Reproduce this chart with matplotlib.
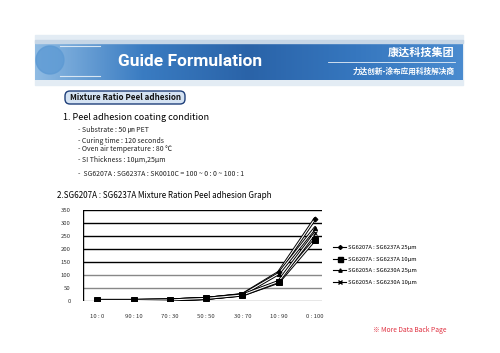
import numpy as np
import matplotlib
matplotlib.use("Agg")
import matplotlib.pyplot as plt
import matplotlib.patheffects as pe
from matplotlib.patches import Rectangle, FancyBboxPatch, Circle

plt.rcParams['font.family'] = ['Noto Sans CJK KR', 'DejaVu Sans']

# data
ratios = ["10 : 0", "90 : 10", "70 : 30", "50 : 50", "30 : 70", "10 : 90", "0 : 100"]
s1_label = "SG6207A : SG6237A 25μm"
s2_label = "SG6207A : SG6237A 10μm"
s3_label = "SG6205A : SG6230A 25μm"
s4_label = "SG6205A : SG6230A 10μm"
s1 = [2, 2, 4, 10, 25, 110, 315]
s2 = [2, 2, 4, 10, 23, 72, 235]
s3 = [2, 2, 4, 10, 24, 105, 280]
s4 = [2, 2, 4, 10, 23, 75, 260]
yticks = [0, 50, 100, 150, 200, 250, 300, 350]

W, H = 500, 353
fig = plt.figure(figsize=(5, 3.53), dpi=100)

def fx(x):
    return x / W

def fy(y):
    return 1 - y / H

# banner
bg = fig.add_axes([0, 0, 1, 1], zorder=0)
bg.axis('off')
bg.add_patch(Rectangle((35, 35), 428, 50, color='#e3ecf4'))
cm = matplotlib.colors.LinearSegmentedColormap.from_list('b', ['#8fbbe3', '#3a7cc2', '#2a63a8', '#3677bf', '#4a8bcf'])
grad = np.linspace(0, 1, 256).reshape(1, -1)
bg.imshow(grad, extent=(35, 463, 80, 42), cmap=cm, aspect='auto', zorder=1)
bg.add_patch(Circle((50, 60), 14, color='#5d9ad4', alpha=0.8, zorder=2))
bg.add_patch(Rectangle((35, 40), 428, 2.5, color='#c6d6e6', zorder=2))
bg.plot([60, 100], [46, 46], color='#d8e6f3', lw=0.8, zorder=3)
bg.plot([60, 100], [76, 76], color='#d8e6f3', lw=0.8, zorder=3)
bg.plot([328, 455], [62, 62], color='#e8f0f8', lw=0.6, zorder=3)
bg.set_xlim(0, W)
bg.set_ylim(H, 0)

fig.text(fx(118), fy(61), "Guide Formulation", color='white', fontsize=12.5,
         fontweight='bold', family=['Roboto', 'DejaVu Sans'], va='center', ha='left')
fig.text(fx(455), fy(52), "康达科技集团", color='white', fontsize=8,
         fontweight='bold', va='center', ha='right')
fig.text(fx(455), fy(71), "力达创新-涂布应用科技解决商", color='white', fontsize=5.5,
         fontweight='bold', va='center', ha='right')

# section tag
bg.add_patch(FancyBboxPatch((65, 91), 120, 13, boxstyle="round,pad=0,rounding_size=5",
                            fc='#d5e3f3', ec='#1f3f7a', lw=1.0, zorder=2))
fig.text(fx(125), fy(97.5), "Mixture Ratio Peel adhesion", fontsize=5.8, fontweight='bold',
         color='#111111', va='center', ha='center')

fig.text(fx(63), fy(118), "1. Peel adhesion coating condition", fontsize=6.5, va='center')
lines = [("- Substrate : 50 ㎛ PET", 130),
         ("- Curing time : 120 seconds", 141),
         ("- Oven air temperature : 80 ℃", 149),
         ("- SI Thickness : 10μm,25μm", 160),
         ("-  SG6207A : SG6237A : SK0010C = 100 ~ 0 : 0 ~ 100 : 1", 174)]
for t, y in lines:
    fig.text(fx(78), fy(y), t, fontsize=5, va='center', color='#222222')
fig.text(fx(57), fy(196), "2.SG6207A : SG6237A Mixture Ration Peel adhesion Graph",
         fontsize=5.8, va='center')
fig.text(fx(410), fy(330), "※ More Data Back Page", fontsize=4.8, color='#e03040',
         va='center', ha='center')

# chart
ax = fig.add_axes([fx(83), fy(301), fx(322 - 83), (301 - 210) / H], zorder=2)
ax.set_facecolor('none')
x = np.arange(len(ratios))
for v in yticks:
    ax.axhline(v, color='#888888' if v <= 100 else 'black', lw=1.0, zorder=1)
ax.axvline(-0.4, color='black', lw=1.0, zorder=1)

dbl = [pe.Stroke(linewidth=2.2, foreground='black'), pe.Normal()]
series = [(s1, s1_label, 'D', 2.5), (s2, s2_label, 's', 4.5),
          (s3, s3_label, '^', 3), (s4, s4_label, 'x', 3.5)]
handles = []
for vals, lab, m, ms in series:
    ax.plot(x, vals, color='white', lw=0.8, path_effects=dbl, zorder=3)
    ax.plot(x, vals, ls='none', marker=m, ms=ms, color='black', mew=0.7, zorder=4)
    h, = ax.plot([], [], color='black', lw=0.8, marker=m, ms=ms * 0.8, label=lab)
    handles.append(h)

ax.set_xlim(-0.4, 6.2)
ax.set_ylim(0, 350)
ax.set_yticks(yticks)
ax.set_xticks(x)
ax.set_xticklabels(ratios)
ax.tick_params(length=0, labelsize=4.3, colors='#333333')
ax.tick_params(axis='x', pad=9)
ax.tick_params(axis='y', pad=9)
for s in ax.spines.values():
    s.set_visible(False)

fig.legend(handles=handles, loc='center left', bbox_to_anchor=(fx(328), fy(265)),
           frameon=False, fontsize=4.2, handlelength=2.2, labelspacing=1.1,
           handletextpad=0.4)

fig.savefig('out.png', dpi=100)
